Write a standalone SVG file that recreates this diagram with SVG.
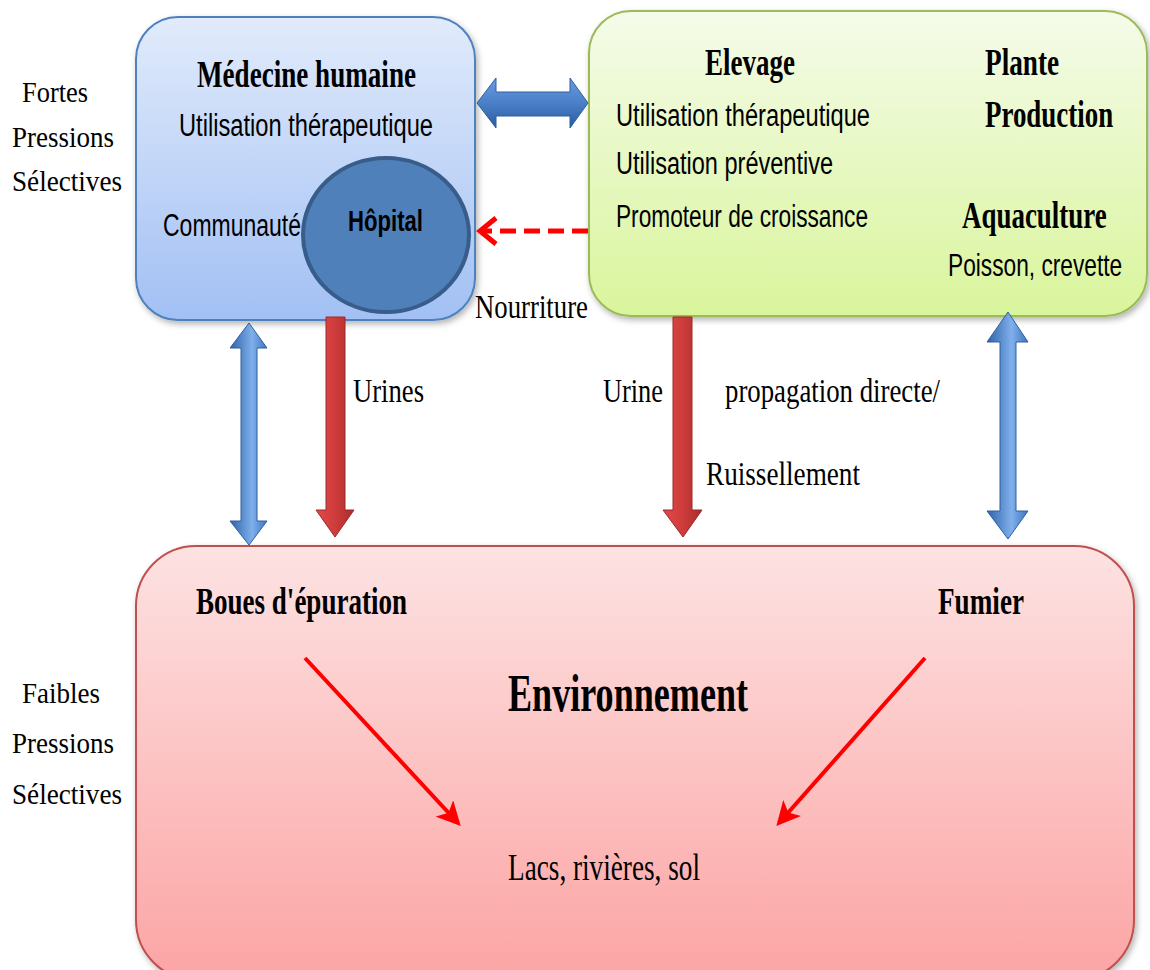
<svg xmlns="http://www.w3.org/2000/svg" width="1150" height="970" viewBox="0 0 1150 970">
<defs>
<linearGradient id="gBlue" x1="0" y1="0" x2="0" y2="1"><stop offset="0" stop-color="#e1ebfb"/><stop offset="1" stop-color="#a2c0f4"/></linearGradient>
<linearGradient id="gGreen" x1="0" y1="0" x2="0" y2="1"><stop offset="0" stop-color="#f5fbea"/><stop offset="1" stop-color="#d9f59b"/></linearGradient>
<linearGradient id="gRed" x1="0" y1="0" x2="0" y2="1"><stop offset="0" stop-color="#fde2e2"/><stop offset="1" stop-color="#fca4a4"/></linearGradient>
<linearGradient id="gArrV" x1="0" y1="0" x2="1" y2="0"><stop offset="0" stop-color="#2f62a8"/><stop offset="0.6" stop-color="#7fb0ec"/><stop offset="1" stop-color="#3d74bd"/></linearGradient>
<linearGradient id="gArrH" x1="0" y1="0" x2="0" y2="1"><stop offset="0" stop-color="#6a9be0"/><stop offset="0.5" stop-color="#4a80c8"/><stop offset="1" stop-color="#2a5a9e"/></linearGradient>
<linearGradient id="gArrR" x1="0" y1="0" x2="1" y2="0"><stop offset="0" stop-color="#e04a4a"/><stop offset="0.5" stop-color="#cf3c3c"/><stop offset="1" stop-color="#a82c2c"/></linearGradient>
<filter id="sh" x="-10%" y="-10%" width="120%" height="120%"><feDropShadow dx="2" dy="3" stdDeviation="3" flood-color="#000" flood-opacity="0.3"/></filter>
<marker id="mRed" viewBox="0 0 12 12" refX="10" refY="6" markerWidth="6" markerHeight="6" orient="auto" markerUnits="strokeWidth"><path d="M0,0 L12,6 L0,12 L3,6 z" fill="#ff0000"/></marker>
<style>
.sb{font-family:"Liberation Serif",serif;font-weight:bold;fill:#000}
.sr{font-family:"Liberation Serif",serif;fill:#000}
.ss{font-family:"Liberation Sans",sans-serif;fill:#000}
.ssb{font-family:"Liberation Sans",sans-serif;font-weight:bold;fill:#000}
.box{stroke-width:2}
</style>
</defs>
<rect width="1150" height="970" fill="#ffffff"/>

<g id="labels-left">
<text class="sr" x="22" y="102" font-size="30" textLength="66" lengthAdjust="spacingAndGlyphs">Fortes</text>
<text class="sr" x="12" y="147" font-size="30" textLength="102" lengthAdjust="spacingAndGlyphs">Pressions</text>
<text class="sr" x="12" y="191" font-size="30" textLength="110" lengthAdjust="spacingAndGlyphs">Sélectives</text>
<text class="sr" x="22" y="703" font-size="30" textLength="78" lengthAdjust="spacingAndGlyphs">Faibles</text>
<text class="sr" x="12" y="753" font-size="30" textLength="102" lengthAdjust="spacingAndGlyphs">Pressions</text>
<text class="sr" x="12" y="804" font-size="30" textLength="110" lengthAdjust="spacingAndGlyphs">Sélectives</text>
</g>

<g id="node-medecine">
<rect class="box" x="136" y="17" width="339" height="303" rx="42" fill="url(#gBlue)" stroke="#4f81bd" filter="url(#sh)"/>
<text class="sb" x="197" y="87" font-size="37" textLength="219" lengthAdjust="spacingAndGlyphs">Médecine humaine</text>
<text class="ss" x="179" y="136" font-size="31" textLength="254" lengthAdjust="spacingAndGlyphs">Utilisation thérapeutique</text>
<text class="ss" x="163" y="236" font-size="31" textLength="138" lengthAdjust="spacingAndGlyphs">Communauté</text>
</g>

<g id="node-hopital">
<ellipse cx="386" cy="235" rx="83" ry="77" fill="#4f80ba" stroke="#385d8a" stroke-width="4"/>
<text class="ssb" x="348" y="231" font-size="30" textLength="75" lengthAdjust="spacingAndGlyphs">Hôpital</text>
</g>

<g id="node-elevage">
<rect class="box" x="589" y="11" width="558" height="305" rx="42" fill="url(#gGreen)" stroke="#9bbb59" filter="url(#sh)"/>
<text class="sb" x="705" y="75" font-size="37" textLength="90" lengthAdjust="spacingAndGlyphs">Elevage</text>
<text class="ss" x="616" y="126" font-size="31" textLength="254" lengthAdjust="spacingAndGlyphs">Utilisation thérapeutique</text>
<text class="ss" x="616" y="174" font-size="31" textLength="217" lengthAdjust="spacingAndGlyphs">Utilisation préventive</text>
<text class="ss" x="616" y="227" font-size="31" textLength="252" lengthAdjust="spacingAndGlyphs">Promoteur de croissance</text>
<text class="sb" transform="translate(985,75) scale(0.72,1)" x="0" y="0" font-size="37" textLength="103" lengthAdjust="spacingAndGlyphs">Plante</text>
<text class="sb" transform="translate(985,127) scale(0.72,1)" x="0" y="0" font-size="37" textLength="178" lengthAdjust="spacingAndGlyphs">Production</text>
<text class="sb" transform="translate(962,228) scale(0.72,1)" x="0" y="0" font-size="37" textLength="201" lengthAdjust="spacingAndGlyphs">Aquaculture</text>
<text class="ss" transform="translate(948,276) scale(0.72,1)" x="0" y="0" font-size="31" textLength="242" lengthAdjust="spacingAndGlyphs">Poisson, crevette</text>
</g>

<g id="node-environnement">
<rect class="box" x="136" y="546" width="998" height="434" rx="60" fill="url(#gRed)" stroke="#c0504d" filter="url(#sh)"/>
<text class="sb" x="196" y="614" font-size="37" textLength="211" lengthAdjust="spacingAndGlyphs">Boues d'épuration</text>
<text class="sb" x="938" y="614" font-size="37" textLength="86" lengthAdjust="spacingAndGlyphs">Fumier</text>
<text class="sb" x="508" y="711" font-size="53" textLength="240" lengthAdjust="spacingAndGlyphs">Environnement</text>
<text class="sr" x="508" y="880" font-size="37" textLength="192" lengthAdjust="spacingAndGlyphs">Lacs, rivières, sol</text>
</g>

<g id="connectors">
<polygon points="477,103 496,78 496,92 570,92 570,78 588,103 570,128 570,116 496,116 496,128" fill="url(#gArrH)" stroke="#2f5f9f" stroke-width="1"/>
<line x1="588" y1="231" x2="484" y2="231" stroke="#ff0000" stroke-width="5" stroke-dasharray="16 8"/>
<path d="M496,218 L480,231 L496,244" fill="none" stroke="#ff0000" stroke-width="5"/>
<polygon points="249,323 267,348 257,348 257,521 267,521 249,545 230,521 241,521 241,348 230,348" fill="url(#gArrV)" stroke="#2f5f9f" stroke-width="1"/>
<polygon points="326,317 345,317 345,510 354,510 335,537 316,510 326,510" fill="url(#gArrR)" stroke="#9c2a2a" stroke-width="1"/>
<polygon points="673,317 692,317 692,510 702,510 683,537 663,510 673,510" fill="url(#gArrR)" stroke="#9c2a2a" stroke-width="1"/>
<polygon points="1008,312 1028,342 1016,342 1016,511 1028,511 1008,539 987,511 1000,511 1000,342 987,342" fill="url(#gArrV)" stroke="#2f5f9f" stroke-width="1"/>
<line x1="305" y1="658" x2="458" y2="823" stroke="#ff0000" stroke-width="4" marker-end="url(#mRed)"/>
<line x1="925" y1="658" x2="779" y2="823" stroke="#ff0000" stroke-width="4" marker-end="url(#mRed)"/>
<text class="sr" x="475" y="318" font-size="34" textLength="113" lengthAdjust="spacingAndGlyphs">Nourriture</text>
<text class="sr" x="353" y="402" font-size="34" textLength="71" lengthAdjust="spacingAndGlyphs">Urines</text>
<text class="sr" x="603" y="402" font-size="34" textLength="60" lengthAdjust="spacingAndGlyphs">Urine</text>
<text class="sr" x="725" y="402" font-size="34" textLength="215" lengthAdjust="spacingAndGlyphs">propagation directe/</text>
<text class="sr" x="706" y="485" font-size="34" textLength="154" lengthAdjust="spacingAndGlyphs">Ruissellement</text>
</g>
</svg>
